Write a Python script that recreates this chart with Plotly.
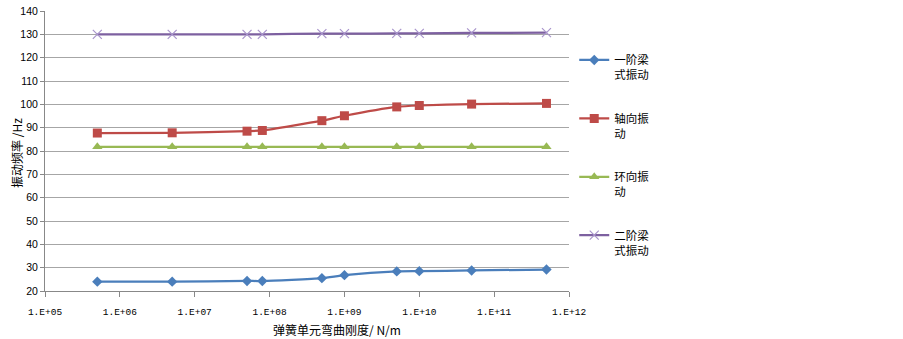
import plotly.graph_objects as go

stiffness = [5e5, 5e6, 5e7, 8e7, 5e8, 1e9, 5e9, 1e10, 5e10, 5e11]
beam1 = [24.0, 24.0, 24.3, 24.3, 25.5, 26.8, 28.4, 28.5, 28.8, 29.2]
axial = [87.7, 87.8, 88.5, 88.8, 93.0, 95.1, 98.9, 99.5, 100.1, 100.4]
ring = [81.8, 81.8, 81.8, 81.8, 81.8, 81.8, 81.8, 81.8, 81.8, 81.8]
beam2 = [130.0, 130.0, 130.0, 130.0, 130.3, 130.3, 130.4, 130.4, 130.6, 130.7]

names = ["一阶梁<br>式振动", "轴向振<br>动", "环向振<br>动", "二阶梁<br>式振动"]
xtick_vals = [1e5, 1e6, 1e7, 1e8, 1e9, 1e10, 1e11, 1e12]
xtick_text = ["1.E+05", "1.E+06", "1.E+07", "1.E+08", "1.E+09", "1.E+10", "1.E+11", "1.E+12"]

series = [
    (beam1, names[0], "#4A7EBB", dict(symbol="diamond", size=8, color="#4A7EBB")),
    (axial, names[1], "#BE4B48", dict(symbol="square", size=9, color="#BE4B48")),
    (ring, names[2], "#98B954", dict(symbol="triangle-up", size=9, color="#98B954")),
    (beam2, names[3], "#7D60A0", dict(symbol="x-thin", size=9, color="#A995CC",
                                       line=dict(width=1.2, color="#A995CC"))),
]

fig = go.Figure()
for i, (ys, nm, col, mk) in enumerate(series):
    fig.add_trace(go.Scatter(
        x=stiffness, y=ys, name=nm, mode="lines+markers",
        line=dict(color=col, width=2.25, shape="spline", smoothing=0.6),
        marker=mk, legendgroup=str(i),
    ))

fig.update_layout(
    width=903, height=339,
    margin=dict(l=45, r=334, t=11, b=48, autoexpand=False),
    paper_bgcolor="white", plot_bgcolor="white",
    font=dict(family="Noto Sans CJK SC, Liberation Sans", size=11, color="#000"),
    legend=dict(x=1.01, xanchor="left", y=0.875, yanchor="top",
                valign="top", tracegroupgap=25.5,
                font=dict(family="Noto Sans CJK SC", size=11.5, color="#000"),
                bgcolor="rgba(0,0,0,0)"),
    showlegend=True,
)
fig.update_xaxes(
    type="log", range=[5, 12], tickvals=xtick_vals, ticktext=xtick_text,
    showgrid=False, showline=True, linecolor="#888", linewidth=1, automargin=False,
    ticks="outside", ticklen=5, tickcolor="#888", ticklabelstandoff=7,
    tickfont=dict(family="Liberation Mono", size=9.5, color="#000"),
)
fig.update_yaxes(
    range=[20, 140], dtick=10, showgrid=True, gridcolor="#A6A6A6", gridwidth=1,
    showline=True, linecolor="#888", linewidth=1, zeroline=False, automargin=False,
    ticks="outside", ticklen=4, tickcolor="#888",
    tickfont=dict(family="Liberation Sans", size=10.5, color="#000"),
)
fig.add_annotation(
    text="振动频率 /Hz", xref="paper", yref="paper",
    x=-0.0534, y=0.493, xanchor="center", yanchor="middle", textangle=-90,
    showarrow=False, font=dict(family="Noto Sans CJK SC", size=12, color="#000"),
)
fig.add_annotation(
    text="弹簧单元弯曲刚度/ N/m", xref="paper", yref="paper",
    x=0.557, y=-0.1, xanchor="center", yanchor="top", showarrow=False,
    font=dict(family="Noto Sans CJK SC", size=12, color="#000"),
)

fig.write_html("out.html", config={"displayModeBar": False},
               post_script="document.body.style.margin='0';")
